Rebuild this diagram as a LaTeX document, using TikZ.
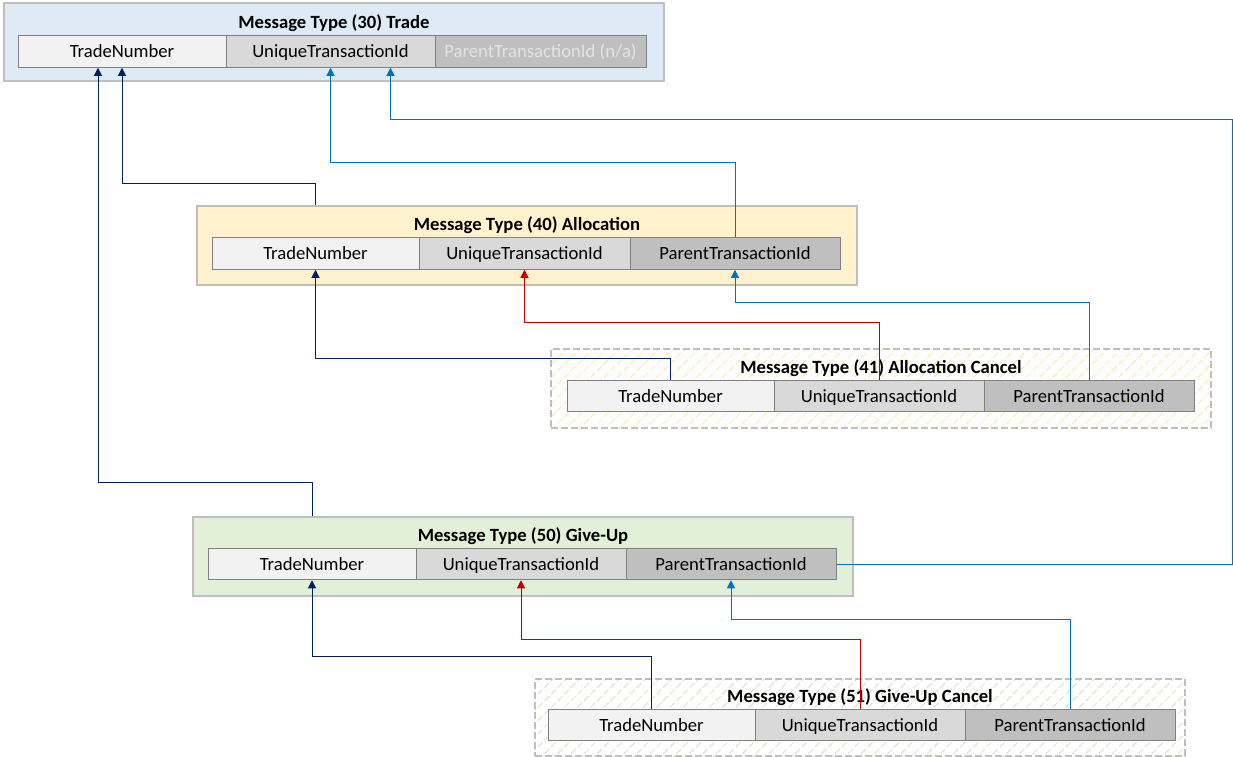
\documentclass[tikz,border=0pt]{standalone}
\usepackage{fontspec}
\setmainfont{Carlito}
\usetikzlibrary{arrows.meta,patterns.meta,calc}
\definecolor{navy}{HTML}{002060}
\definecolor{lblue}{HTML}{0070C0}
\definecolor{dred}{HTML}{C00000}
\definecolor{cellA}{HTML}{F2F2F2}
\definecolor{cellB}{HTML}{D9D9D9}
\definecolor{cellC}{HTML}{BFBFBF}
\definecolor{cellline}{HTML}{808080}
\definecolor{boxline}{HTML}{BFBFBF}
\definecolor{tradefill}{HTML}{DEEBF7}
\definecolor{allocfill}{HTML}{FFF2CC}
\definecolor{gufill}{HTML}{E2F0D9}
\definecolor{hatchY}{HTML}{FFE08A}
\definecolor{hatchG}{HTML}{C5E0B4}
\definecolor{natext}{HTML}{E4E4E4}
\tikzset{
  outer/.style 2 args={draw=boxline, line width=1.5pt, inner sep=0pt,
    minimum width=#1*0.75pt, minimum height=#2*0.75pt},
  dashbox/.style={dash pattern=on 5pt off 2.5pt, preaction={fill=white}},
  title/.style={font=\fontsize{14pt}{16pt}\selectfont\bfseries, inner sep=0pt,
    text height=9pt, text depth=0pt},
  cell/.style={draw=cellline, line width=0.75pt, inner sep=0pt,
    minimum width=#1*0.75pt, minimum height=31.5*0.75pt,
    text height=9pt, text depth=0pt,
    font=\fontsize{14pt}{16pt}\selectfont},
  conn/.style={line width=0.75pt, -{Triangle[width=6pt,length=6pt]}},
}
\begin{document}
\begin{tikzpicture}[x=0.75pt,y=-0.75pt]
\useasboundingbox (0,0) rectangle (1233,757);
% ---- outer boxes
\node[outer={660}{78}, fill=tradefill] (trade) at (334,42) {};
\node[outer={660}{79}, fill=allocfill] (alloc) at (527,245.5) {};
\node[outer={660}{79}, dashbox, pattern={Lines[angle=45,distance=7pt,line width=0.5pt]}, pattern color=hatchY] (acan) at (881,388.5) {};
\node[outer={660}{79}, fill=gufill] (gu) at (523,556.5) {};
\node[outer={650}{77}, dashbox, pattern={Lines[angle=45,distance=7pt,line width=0.5pt]}, pattern color=hatchG] (gucan) at (860,717.5) {};
% ---- titles
\node[title] (tradeT) at (334,22) {Message Type (30) Trade};
\node[title] (allocT) at (527,224) {Message Type (40) Allocation};
\node[title] (acanT) at (881,367) {Message Type (41) Allocation Cancel};
\node[title] (guT) at (523,535) {Message Type (50) Give-Up};
\node[title] (gucanT) at (860,696) {Message Type (51) Give-Up Cancel};
% ---- cells
\node[cell=208, fill=cellA] (ttn) at (122,51.5) {TradeNumber};
\node[cell=209, fill=cellB] (tut) at (330.5,51.5) {UniqueTransactionId};
\node[cell=211, fill=cellC, text=natext] (tpp) at (540.5,51.5) {ParentTransactionId (n/a)};

\node[cell=207, fill=cellA] (atn) at (315.5,253.5) {TradeNumber};
\node[cell=211, fill=cellB] (aut) at (524.5,253.5) {UniqueTransactionId};
\node[cell=210, fill=cellC] (app) at (735,253.5) {ParentTransactionId};

\node[cell=207, fill=cellA] (actn) at (670.5,396) {TradeNumber};
\node[cell=210, fill=cellB] (acut) at (879,396) {UniqueTransactionId};
\node[cell=210, fill=cellC] (acpp) at (1089,396) {ParentTransactionId};

\node[cell=208, fill=cellA] (gtn) at (312,564) {TradeNumber};
\node[cell=210, fill=cellB] (gut) at (521,564) {UniqueTransactionId};
\node[cell=210, fill=cellC] (gpp) at (731,564) {ParentTransactionId};

\node[cell=207, fill=cellA] (guctn) at (651.5,725) {TradeNumber};
\node[cell=210, fill=cellB] (gucut) at (860,725) {UniqueTransactionId};
\node[cell=210, fill=cellC] (gucpp) at (1070,725) {ParentTransactionId};

\coordinate (rt) at (1232,119);
% ---- connectors
\draw[conn, navy] (atn.center |- alloc.north) -- ++(0,-22) -| (ttn.south);
\draw[conn, navy] (gtn.center |- gu.north) -- ++(0,-34) -| ($(ttn.south)+(-24,0)$);
\draw[conn, navy] (actn.north) -- ++(0,-21) -| (atn.south);
\draw[conn, navy] (guctn.north) -- ++(0,-52) -| (gtn.south);
\draw[conn, lblue] (app.north) -- ++(0,-75) -| (tut.south);
\draw[conn, lblue] (gpp.east) -| (rt) -| ($(tut.south)+(60,0)$);
\draw[conn, lblue] (acpp.north) -- ++(0,-77) -| (app.south);
\draw[conn, lblue] (gucpp.north) -- ++(0,-89) -| (gpp.south);
\draw[conn, dred] (acut.north) -- ++(0,-57) -| (aut.south);
\draw[conn, dred] (gucut.north) -- ++(0,-69) -| (gut.south);
\end{tikzpicture}
\end{document}
